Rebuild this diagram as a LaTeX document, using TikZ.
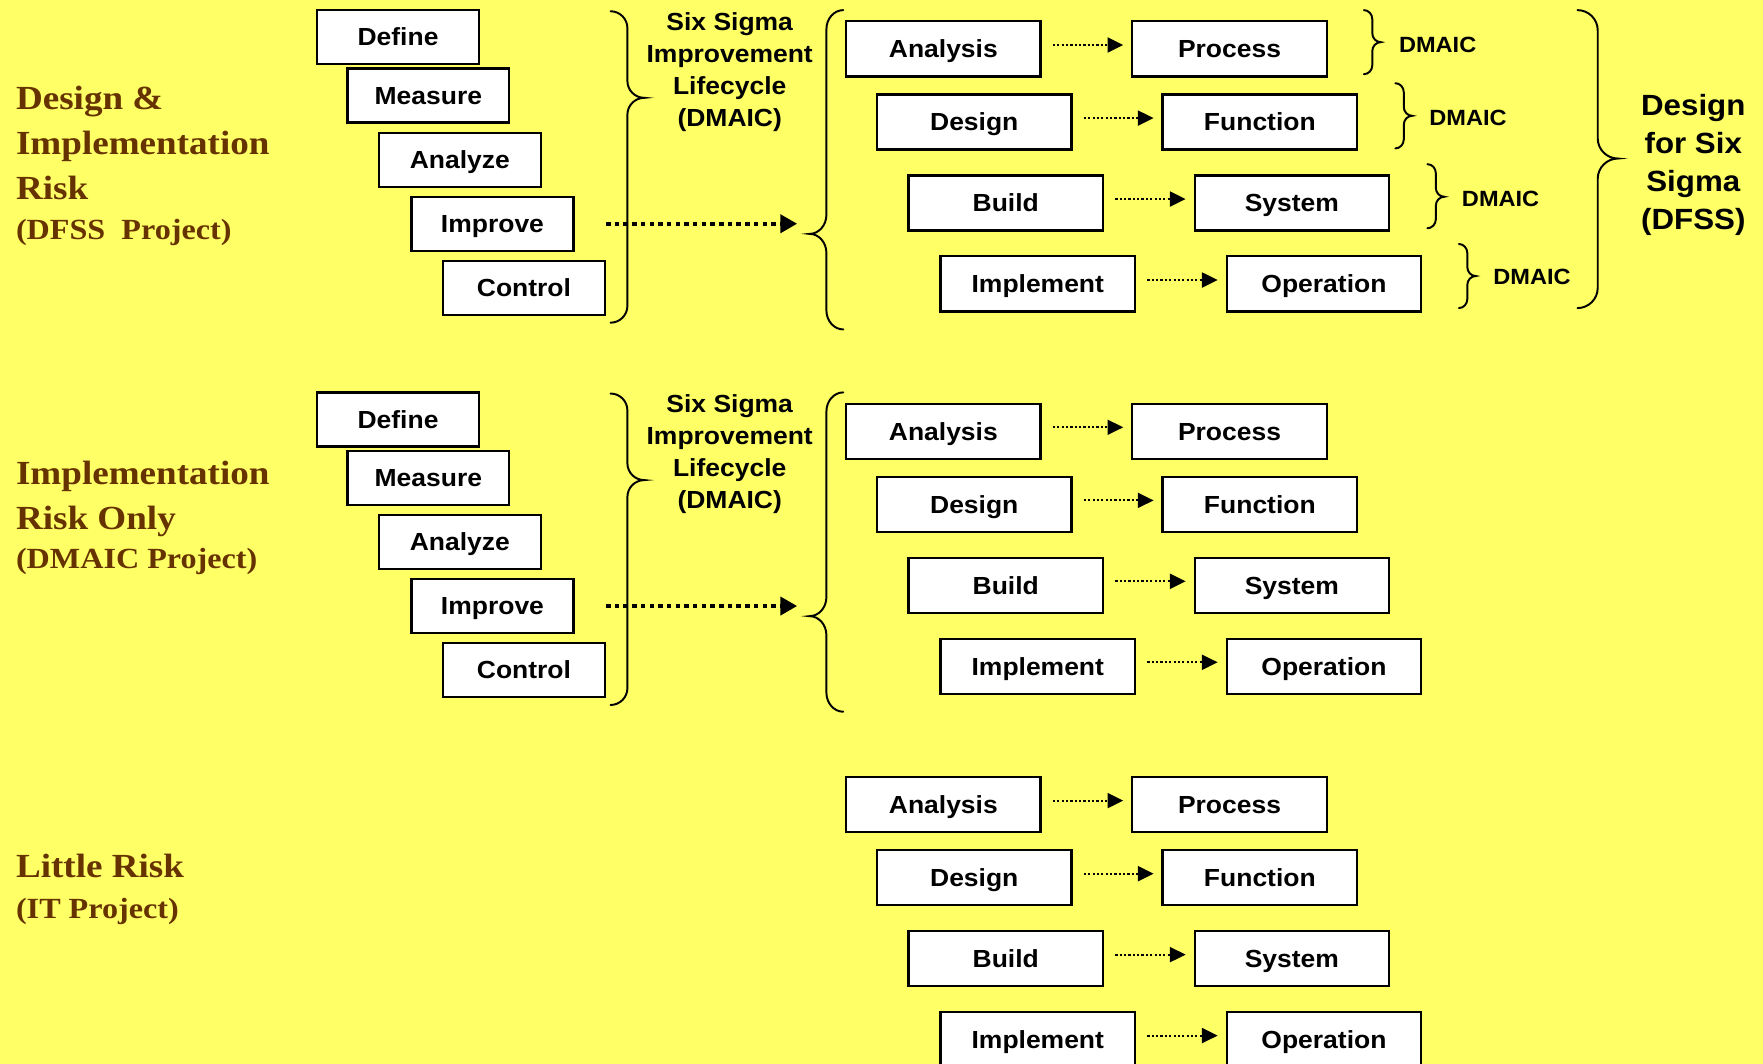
\documentclass[tikz,border=0pt]{standalone}
\usepackage{fontspec}
\usetikzlibrary{arrows.meta}

\newfontfamily\labelfont{Liberation Serif}[FakeStretch=1.1]
\newfontfamily\boxfont{Liberation Sans}[FakeStretch=1.07]

\definecolor{bgyellow}{HTML}{FFFF66}
\definecolor{labelbrown}{HTML}{663300}

% Curly brace drawn from its spine:
% #1 spine x, #2 top y, #3 bottom y, #4 tip y,
% #5 signed half width (positive: tip points right), #6 curl length
\newcommand{\curlybrace}[6]{%
  \draw[bracestroke] ({#1-(#5)},{#2})
    .. controls ({#1-0.448*(#5)},{#2}) and ({#1},{#2+0.448*(#6)}) .. ({#1},{#2+(#6)})
    -- ({#1},{#4-(#6)})
    .. controls ({#1},{#4-0.448*(#6)}) and ({#1+0.448*(#5)},{#4}) .. ({#1+(#5)},{#4})
    .. controls ({#1+0.448*(#5)},{#4}) and ({#1},{#4+0.448*(#6)}) .. ({#1},{#4+(#6)})
    -- ({#1},{#3-(#6)})
    .. controls ({#1},{#3-0.448*(#6)}) and ({#1-0.448*(#5)},{#3}) .. ({#1-(#5)},{#3});
}

\tikzset{
  stagebox/.style={draw=black, line width=1.5pt, fill=white,
    minimum width=108pt, minimum height=36pt, inner sep=0pt,
    text height=11.8pt, text depth=0pt,
    font=\boxfont\bfseries\fontsize{16.5pt}{19pt}\selectfont},
  stepbox/.style={stagebox, minimum width=129.75pt, minimum height=36.75pt},
  sixsig/.style={anchor=base, inner sep=0pt,
    font=\boxfont\bfseries\fontsize{16.5pt}{20pt}\selectfont},
  dmaic/.style={anchor=west, inner sep=0pt,
    font=\boxfont\bfseries\fontsize{14.7pt}{17pt}\selectfont},
  dfss/.style={anchor=base, inner sep=0pt,
    font=\boxfont\bfseries\fontsize{19.5pt}{24pt}\selectfont},
  riskbig/.style={anchor=base west, inner sep=0pt, text=labelbrown,
    font=\labelfont\bfseries\fontsize{22.5pt}{27pt}\selectfont},
  risksmall/.style={riskbig,
    font=\labelfont\bfseries\fontsize{19.5pt}{23pt}\selectfont},
  bracestroke/.style={draw=black, line width=1.3pt, line cap=round},
  bigarrow/.style={draw=black, line width=2.7pt, dash pattern=on 3pt off 2.8pt,
    -{Triangle[length=11.25pt, width=12pt]}},
  smallarrow/.style={draw=black, line width=1.35pt, dash pattern=on 1.45pt off 1.45pt,
    -{Triangle[length=10.5pt, width=10pt]}, shorten <=7.5pt, shorten >=5.25pt},
}

\begin{document}
\begin{tikzpicture}[x=0.75pt, y=-0.75pt]
  \fill[bgyellow] (0,0) rectangle (1568,946);
  \useasboundingbox (0,0) rectangle (1568,946);
  \clip (0,0) rectangle (1568,946);

  % risk categories
  \node[riskbig]   (r1a) at (14,97.5)  {Design \&};
  \node[riskbig]   (r1b) at (14,137.5) {Implementation};
  \node[riskbig]   (r1c) at (14,177.5) {Risk};
  \node[risksmall] (r1d) at (14,213)   {(DFSS~~Project)};

  \node[riskbig]   (r2a) at (14,430.5) {Implementation};
  \node[riskbig]   (r2b) at (14,470.5) {Risk Only};
  \node[risksmall] (r2c) at (14,506)   {(DMAIC Project)};

  \node[riskbig]   (r3a) at (14,780.5) {Little Risk};
  \node[risksmall] (r3b) at (14,816.5) {(IT Project)};

  % DMAIC staircase, its brace and the hand-over arrow
  \foreach \s/\dy in {1/0, 2/340} {
    \node[stagebox] (def\s) at (354,{33+\dy})  {Define};
    \node[stagebox] (mea\s) at (381,{85+\dy})  {Measure};
    \node[stagebox] (ana\s) at (409,{142+\dy}) {Analyze};
    \node[stagebox] (imp\s) at (438,{199+\dy}) {Improve};
    \node[stagebox] (ctl\s) at (466,{256+\dy}) {Control};

    \curlybrace{558}{10+\dy}{287+\dy}{87+\dy}{15}{15}

    \node[sixsig] (ssa\s) at (649,{27+\dy})    {Six Sigma};
    \node[sixsig] (ssb\s) at (649,{55.5+\dy})  {Improvement};
    \node[sixsig] (ssc\s) at (649,{84+\dy})    {Lifecycle};
    \node[sixsig] (ssd\s) at (649,{112.5+\dy}) {(DMAIC)};

    \curlybrace{735}{9+\dy}{293+\dy}{208+\dy}{-15}{17}

    \coordinate (ae\s) at (709,{199+\dy});
    \draw[bigarrow] (ctl\s.east |- imp\s.east) -- (ae\s);
  }

  % development steps and their results
  \foreach \s/\dy in {1/0, 2/340, 3/672} {
    \node[stepbox] (an\s) at (839,{43.5+\dy})    {Analysis};
    \node[stepbox] (pr\s) at (1093.5,{43.5+\dy}) {Process};
    \node[stepbox] (de\s) at (866.5,{108.5+\dy}) {Design};
    \node[stepbox] (fu\s) at (1120.5,{108.5+\dy}) {Function};
    \node[stepbox] (bu\s) at (894.5,{180.5+\dy}) {Build};
    \node[stepbox] (sy\s) at (1149,{180.5+\dy})  {System};
    \node[stepbox] (im\s) at (923,{252.5+\dy})   {Implement};
    \node[stepbox] (op\s) at (1177.5,{252.5+\dy}) {Operation};
    \foreach \a/\b in {an/pr, de/fu, bu/sy, im/op}
      \draw[smallarrow] ([yshift=2.6pt]\a\s.east) -- ([yshift=2.6pt]\b\s.west);
  }

  % DMAIC per step and the DFSS brace
  \curlybrace{1220.5}{9}{66}{37.5}{7.5}{8}
  \curlybrace{1248.5}{74}{132}{103}{7.5}{8}
  \curlybrace{1277}{146}{203}{175}{7.5}{8}
  \curlybrace{1305}{217}{274}{245.5}{7.5}{8}
  \node[dmaic] (dm1) at (1244,40)  {DMAIC};
  \node[dmaic] (dm2) at (1271,105) {DMAIC};
  \node[dmaic] (dm3) at (1300,177) {DMAIC};
  \node[dmaic] (dm4) at (1328,246) {DMAIC};

  \curlybrace{1421}{9}{274}{141}{18}{18}
  \node[dfss] (dfa) at (1506,102.5) {Design};
  \node[dfss] (dfb) at (1506,136.5) {for Six};
  \node[dfss] (dfc) at (1506,170.5) {Sigma};
  \node[dfss] (dfd) at (1506,204)   {(DFSS)};
\end{tikzpicture}
\end{document}
